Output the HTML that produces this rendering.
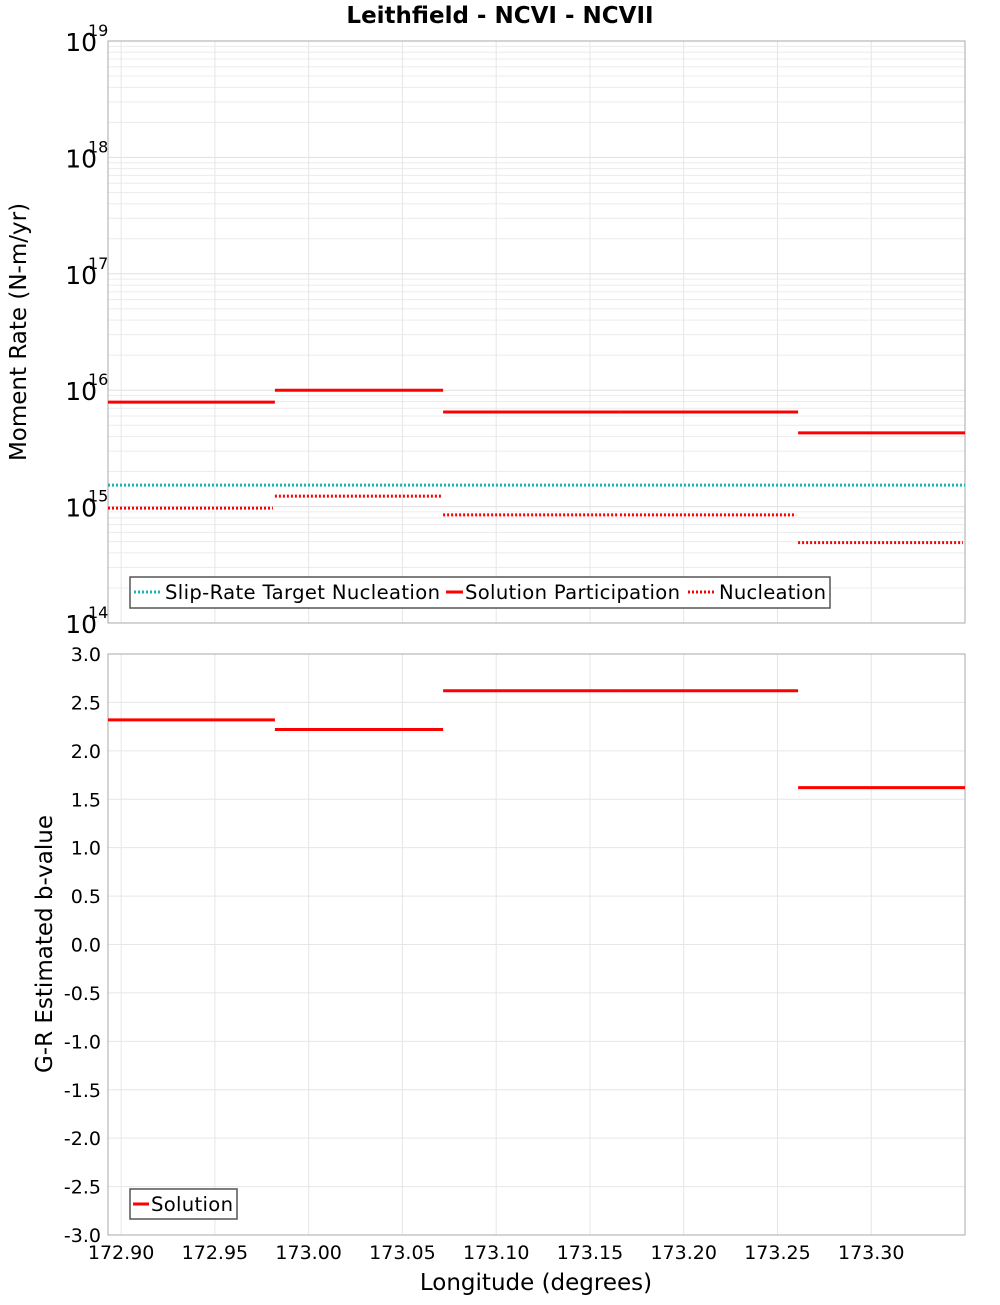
<!DOCTYPE html>
<html><head><meta charset="utf-8"><style>
body{margin:0;background:#fff;width:1000px;height:1300px;overflow:hidden;font-family:"Liberation Sans","DejaVu Sans",sans-serif}
</style></head><body>
<svg id="chart" width="1000" height="1300" xmlns="http://www.w3.org/2000/svg" font-family="DejaVu Sans, Liberation Sans, sans-serif"></svg>
<script>
const segEdges = [172.893, 172.982, 173.0717, 173.166, 173.261, 173.350];
const participation = [7.9e15, 1.0e16, 6.5e15, 6.5e15, 4.3e15];
const nucleation = [9.7e14, 1.23e15, 8.5e14, 8.5e14, 4.9e14];
const targetNucleation = [1.53e15];
const bValues = [2.32, 2.22, 2.62, 2.62, 1.62];
const xTicks = [172.90, 172.95, 173.00, 173.05, 173.10, 173.15, 173.20, 173.25, 173.30];
const decades = [14, 15, 16, 17, 18, 19];
const bTicks = [3.0, 2.5, 2.0, 1.5, 1.0, 0.5, 0.0, -0.5, -1.0, -1.5, -2.0, -2.5, -3.0];

const svg = document.getElementById('chart');
const NS = 'http://www.w3.org/2000/svg';
const L = 108, R = 965;
const T1 = 41, B1 = 623, T2 = 654, B2 = 1235;
const xMin = 172.893, xMax = 173.350;
const xs = v => L + (v - xMin) / (xMax - xMin) * (R - L);
const y1 = v => B1 - (Math.log10(v) - 14) / 5 * (B1 - T1);
const y2 = v => B2 - (v + 3) / 6 * (B2 - T2);
function mk(tag, attrs, parent) {
  const e = document.createElementNS(NS, tag);
  for (const k in attrs) e.setAttribute(k, attrs[k]);
  (parent || svg).appendChild(e);
  return e;
}
function txt(x, y, s, attrs) {
  const e = mk('text', Object.assign({x: x, y: y}, attrs || {}));
  e.textContent = s;
  return e;
}
mk('rect', {x: 0, y: 0, width: 1000, height: 1300, fill: '#fff'});
const t = txt(500, 23, 'Leithfield - NCVI - NCVII', {'text-anchor': 'middle', 'font-size': 23, 'font-weight': 'bold'});



const g1 = mk('g', {});


for (let d = 14; d < 19; d++) for (let m = 1; m <= 9; m++) {
  const y = y1(m * Math.pow(10, d));
  mk('line', {x1: L, x2: R, y1: y, y2: y, stroke: m === 1 ? '#e0e0e0' : '#ececec', 'stroke-width': 1}, g1);
}
xTicks.forEach(v => { mk('line', {x1: xs(v), x2: xs(v), y1: T1, y2: B1, stroke: '#e6e6e6'}, g1); });
const g2 = mk('g', {});


bTicks.forEach(v => { mk('line', {x1: L, x2: R, y1: y2(v), y2: y2(v), stroke: '#e6e6e6'}, g2); });
xTicks.forEach(v => { mk('line', {x1: xs(v), x2: xs(v), y1: T2, y2: B2, stroke: '#e6e6e6'}, g2); });

const f1 = mk('rect', {x: L, y: T1, width: R - L, height: B1 - T1, fill: 'none', stroke: '#aaa'});


const f2 = mk('rect', {x: L, y: T2, width: R - L, height: B2 - T2, fill: 'none', stroke: '#aaa'});



decades.forEach(d => {
  const e = txt(97, y1(Math.pow(10, d)) + 10, '10', {'text-anchor': 'end', 'font-size': 25});
  
  
  const s = txt(88, y1(Math.pow(10, d)) - 5, String(d), {'font-size': 16});
  
  
});
bTicks.forEach(v => {
  const e = txt(101, y2(v) + 7, v.toFixed(1), {'text-anchor': 'end', 'font-size': 19});
  
  
});
xTicks.forEach(v => {
  const e = txt(xs(v), 1259, v.toFixed(2), {'text-anchor': 'middle', 'font-size': 19});
  
  
});
const xt = txt(536, 1290, 'Longitude (degrees)', {'text-anchor': 'middle', 'font-size': 23});


const yt1 = txt(0, 0, 'Moment Rate (N-m/yr)', {'text-anchor': 'middle', 'font-size': 23, transform: 'translate(26,332) rotate(-90)'});


const yt2 = txt(0, 0, 'G-R Estimated b-value', {'text-anchor': 'middle', 'font-size': 23, transform: 'translate(52,944) rotate(-90)'});



targetNucleation.forEach(v => {
  const e = mk('line', {x1: L, x2: R, y1: y1(v), y2: y1(v), stroke: '#1bb5b5', 'stroke-width': 3, 'stroke-dasharray': '2,2'});
  
  
});
participation.forEach((v, i) => {
  const e = mk('line', {x1: xs(segEdges[i]), x2: xs(segEdges[i + 1]), y1: y1(v), y2: y1(v), stroke: '#f00', 'stroke-width': 3});
  
  
});
nucleation.forEach((v, i) => {
  const e = mk('line', {x1: xs(segEdges[i]), x2: xs(segEdges[i + 1]) - 2, y1: y1(v), y2: y1(v), stroke: '#f00', 'stroke-width': 3, 'stroke-dasharray': '2,2'});
  
  
});
bValues.forEach((v, i) => {
  const e = mk('line', {x1: xs(segEdges[i]), x2: xs(segEdges[i + 1]), y1: y2(v), y2: y2(v), stroke: '#f00', 'stroke-width': 3});
  
  
});

const lg1 = mk('g', {});


mk('rect', {x: 130, y: 577, width: 700, height: 31, fill: '#fff', stroke: '#555', 'stroke-width': 1.5}, lg1);
mk('line', {x1: 134, x2: 161, y1: 592, y2: 592, stroke: '#1bb5b5', 'stroke-width': 3, 'stroke-dasharray': '2,2'}, lg1);
txt(165, 599, 'Slip-Rate Target Nucleation', {'font-size': 19.6, textLength: 275});
mk('line', {x1: 446, x2: 463, y1: 592, y2: 592, stroke: '#f00', 'stroke-width': 3}, lg1);
txt(465, 599, 'Solution Participation', {'font-size': 19.6, textLength: 215});
mk('line', {x1: 688, x2: 716, y1: 592, y2: 592, stroke: '#f00', 'stroke-width': 3, 'stroke-dasharray': '2,2'}, lg1);
txt(719, 599, 'Nucleation', {'font-size': 19.6, textLength: 107});
const lg2 = mk('g', {});


mk('rect', {x: 130, y: 1189, width: 107, height: 30, fill: '#fff', stroke: '#555', 'stroke-width': 1.5}, lg2);
mk('line', {x1: 133, x2: 149, y1: 1204, y2: 1204, stroke: '#f00', 'stroke-width': 3}, lg2);
txt(151, 1211, 'Solution', {'font-size': 19.6, textLength: 82});
</script>
</body></html>
